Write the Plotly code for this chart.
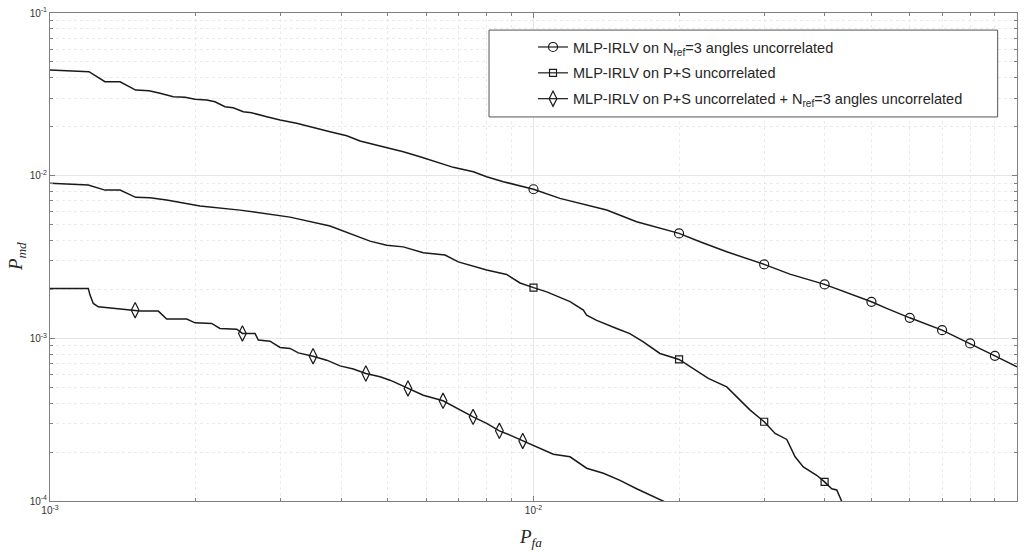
import plotly.graph_objects as go

# P_fa / P_md operating points for each detector
fa_ang = [0.001, 0.001204, 0.001299, 0.001396, 0.001504, 0.001603, 0.001689, 0.001799, 0.001902, 0.001995,
          0.002109, 0.002194, 0.0023, 0.002393, 0.00251, 0.002613, 0.002807, 0.002991, 0.003237, 0.003504,
          0.003794, 0.004109, 0.004378, 0.004815, 0.005378, 0.005825, 0.006306, 0.006826, 0.007508, 0.008,
          0.00866, 0.01, 0.01134, 0.01288, 0.01417, 0.01634, 0.02, 0.0221, 0.0251, 0.03,
          0.0339, 0.04, 0.04586, 0.05, 0.05375, 0.06, 0.07, 0.08, 0.09, 0.1]
md_ang = [0.0446, 0.04355, 0.0378, 0.0378, 0.0336, 0.03327, 0.03208, 0.03056, 0.0303, 0.02945,
          0.02917, 0.02847, 0.02652, 0.02616, 0.02472, 0.02436, 0.02303, 0.02198, 0.02098, 0.01971,
          0.01862, 0.01759, 0.01632, 0.0152, 0.01403, 0.01307, 0.01218, 0.01125, 0.01057, 0.00985,
          0.00918, 0.00825, 0.007253, 0.006596, 0.006143, 0.005203, 0.004417, 0.003922, 0.003404, 0.002848,
          0.002482, 0.002146, 0.001844, 0.001677, 0.001527, 0.001337, 0.001123, 0.00093, 0.000781, 0.000668]

fa_ps = [0.001, 0.0012, 0.001299, 0.001396, 0.001504, 0.00161, 0.001743, 0.002043, 0.002472, 0.003136,
         0.003794, 0.00459, 0.00497, 0.005378, 0.005916, 0.006561, 0.00699, 0.00739, 0.008, 0.0088,
         0.00938, 0.01, 0.01065, 0.0119, 0.01268, 0.01288, 0.01351, 0.01486, 0.01582, 0.01687,
         0.01826, 0.02, 0.02108, 0.02299, 0.0251, 0.02675, 0.02806, 0.03, 0.0316, 0.03341,
         0.03476, 0.03614, 0.03852, 0.04, 0.04138, 0.04238, 0.0435]
md_ps = [0.00897, 0.00876, 0.00815, 0.00815, 0.00736, 0.00731, 0.00708, 0.0065, 0.00614, 0.00556,
         0.0049, 0.00396, 0.00374, 0.00365, 0.00336, 0.00325, 0.00295, 0.00282, 0.00263, 0.00247,
         0.00219, 0.00205, 0.00193, 0.00168, 0.00149, 0.00139, 0.00129, 0.00115, 0.00107, 0.000952,
         0.000807, 0.000742, 0.000668, 0.000567, 0.000503, 0.000417, 0.000362, 0.000307, 0.00026, 0.000239,
         0.000187, 0.000162, 0.000144, 0.000131, 0.000119, 0.000117, 0.000098]

fa_comb = [0.001, 0.0012, 0.00121, 0.001229, 0.001259, 0.0015, 0.001535, 0.001675, 0.001743, 0.001918,
           0.001995, 0.00216, 0.002246, 0.002433, 0.0025, 0.002655, 0.002697, 0.002851, 0.002991, 0.003136,
           0.003262, 0.0035, 0.003735, 0.00398, 0.00424, 0.0045, 0.004815, 0.00505, 0.0055, 0.005916,
           0.0065, 0.007047, 0.0075, 0.008, 0.0085, 0.00894, 0.0095, 0.01015, 0.01099, 0.0119,
           0.01288, 0.01395, 0.0151, 0.01634, 0.0188]
md_comb = [0.002027, 0.002027, 0.001844, 0.001639, 0.001562, 0.00149, 0.00147, 0.00147, 0.001313, 0.001313,
           0.001245, 0.001235, 0.001151, 0.001139, 0.001072, 0.001072, 0.000975, 0.000961, 0.000879, 0.000867,
           0.000814, 0.000777, 0.000734, 0.000677, 0.000647, 0.000608, 0.00058, 0.000553, 0.000492, 0.000447,
           0.000413, 0.000362, 0.000329, 0.0003, 0.00027, 0.000254, 0.000234, 0.000215, 0.000194, 0.000187,
           0.000159, 0.000148, 0.000134, 0.000119, 0.000098]

# marker positions along each curve
mk_fa_ang = [0.01, 0.02, 0.03, 0.04, 0.05, 0.06, 0.07, 0.08, 0.09]
mk_md_ang = [0.00825, 0.004417, 0.002848, 0.002146, 0.001677, 0.001337, 0.001123, 0.00093, 0.000781]
mk_fa_ps = [0.01, 0.02, 0.03, 0.04]
mk_md_ps = [0.00205, 0.000742, 0.000307, 0.000131]
mk_fa_comb = [0.0015, 0.0025, 0.0035, 0.0045, 0.0055, 0.0065, 0.0075, 0.0085, 0.0095]
mk_md_comb = [0.00149, 0.001072, 0.000777, 0.000608, 0.000492, 0.000413, 0.000329, 0.00027, 0.000234]

names = [
    "MLP-IRLV on N<sub>ref</sub>=3 angles uncorrelated",
    "MLP-IRLV on P+S uncorrelated",
    "MLP-IRLV on P+S uncorrelated + N<sub>ref</sub>=3 angles uncorrelated",
]
x_ticks = [0.001, 0.01, 0.1]
x_ticktext = ["10<sup>-3</sup>", "10<sup>-2</sup>", "10<sup>-1</sup>"]
y_ticks = [0.0001, 0.001, 0.01, 0.1]
y_ticktext = ["10<sup>-4</sup>", "10<sup>-3</sup>", "10<sup>-2</sup>", "10<sup>-1</sup>"]

INK = "#1a1a1a"
AXC = "#808080"
SANS = "Arial, Liberation Sans, sans-serif"
SERIF = "Liberation Serif, Times New Roman, serif"

series = [
    (fa_ang, md_ang, mk_fa_ang, mk_md_ang, "circle-open", 9),
    (fa_ps, md_ps, mk_fa_ps, mk_md_ps, "square-open", 7),
    (fa_comb, md_comb, mk_fa_comb, mk_md_comb, "diamond-tall-open", 11),
]

fig = go.Figure()
for i, (fa, md, mfa, mmd, sym, sz) in enumerate(series):
    mk = dict(symbol=sym, size=sz, color=INK, line=dict(width=1.2, color=INK))
    fig.add_trace(go.Scatter(x=fa, y=md, mode="lines", line=dict(color=INK, width=1.5),
                             showlegend=False, hoverinfo="skip"))
    fig.add_trace(go.Scatter(x=mfa, y=mmd, mode="markers", marker=mk, showlegend=False))
    fig.add_trace(go.Scatter(x=[None], y=[None], mode="lines+markers", name=names[i],
                             legendgroup=f"g{i}", line=dict(color=INK, width=1.2), marker=mk))

axis_common = dict(
    type="log", showline=True, linecolor=AXC, linewidth=1, mirror="ticks",
    ticks="inside", ticklen=5, tickcolor=AXC, tickwidth=1,
    showgrid=True, gridcolor="#e6e6e6", gridwidth=1, zeroline=False,
    tickmode="array", tickfont=dict(family=SANS, size=10, color="#333333"),
    minor=dict(dtick="D1", ticks="inside", ticklen=3, tickcolor=AXC,
               showgrid=True, gridcolor="#ebebeb", griddash="dot", gridwidth=1),
)
fig.update_xaxes(range=[-3, -1], tickvals=x_ticks, ticktext=x_ticktext, **axis_common)
fig.update_yaxes(range=[-4, -1], tickvals=y_ticks, ticktext=y_ticktext, **axis_common)

fig.update_layout(
    width=1024, height=552,
    margin=dict(l=50, r=7, t=13, b=51),
    paper_bgcolor="white", plot_bgcolor="white",
    font=dict(family=SANS, color="#262626"),
    legend=dict(x=0.4995, xanchor="left", y=0.963, yanchor="top",
                bgcolor="rgba(0,0,0,0)", borderwidth=0,
                font=dict(family=SANS, size=14.5, color="#262626"),
                tracegroupgap=4, itemwidth=30),
    shapes=[dict(type="rect", xref="paper", yref="paper", x0=0.454, x1=0.980, y0=0.787, y1=0.965,
                 fillcolor="white", line=dict(color="#555555", width=1), layer="above")],
    annotations=[
        dict(text="<i>P</i><sub><i>fa</i></sub>", xref="paper", yref="paper", x=0.497, y=-0.076,
             showarrow=False, xanchor="center", yanchor="middle",
             font=dict(family=SERIF, size=19, color="#262626")),
        dict(text="<i>P</i><sub><i>md</i></sub>", xref="paper", yref="paper", x=-0.034, y=0.5,
             showarrow=False, xanchor="center", yanchor="middle", textangle=-90,
             font=dict(family=SERIF, size=19, color="#262626")),
    ],
)

fig.write_html("out.html")
